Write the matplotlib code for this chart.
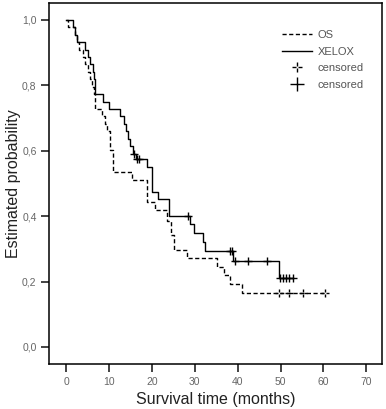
import matplotlib.pyplot as plt
from matplotlib.path import Path
from matplotlib.lines import Line2D

# ==== DATA ====
# OS curve: step times and survival after each step
os_times = [0, 0.5, 2.1, 2.6, 3.1, 4.0, 4.3, 5.2, 5.6, 6.0, 6.4, 6.8, 8.3, 9.1, 9.6,
            10.2, 10.9, 15.4, 18.8, 20.8, 23.5, 24.4, 25.2, 28.2, 35.2, 36.9, 38.1, 41.0]
os_surv = [1.0, 0.977, 0.955, 0.932, 0.909, 0.886, 0.864, 0.841, 0.818, 0.795, 0.773,
           0.727, 0.705, 0.682, 0.659, 0.602, 0.534, 0.511, 0.443, 0.420, 0.386, 0.341,
           0.295, 0.271, 0.244, 0.220, 0.193, 0.164]
os_end = 60.3
os_cens_t = [49.7, 51.9, 55.2, 60.3]
os_cens_s = [0.164, 0.164, 0.164, 0.164]

# XELOX curve
xe_times = [0, 1.6, 2.0, 2.5, 4.4, 5.1, 5.6, 6.2, 6.5, 6.8, 8.7, 10.1, 12.6, 13.4, 14.0,
            14.5, 14.9, 15.6, 16.3, 18.8, 20.0, 21.5, 24.1, 28.9, 29.7, 32.0, 32.4, 38.9, 49.7]
xe_surv = [1.0, 0.977, 0.955, 0.932, 0.909, 0.886, 0.864, 0.841, 0.818, 0.773, 0.750,
           0.727, 0.705, 0.682, 0.659, 0.636, 0.614, 0.591, 0.575, 0.551, 0.475, 0.451,
           0.401, 0.375, 0.350, 0.322, 0.294, 0.263, 0.210]
xe_end = 53.0
xe_cens_t = [15.9, 16.6, 17.0, 28.4, 38.1, 38.7, 39.3, 42.5, 46.8, 49.9, 50.6, 51.2, 51.9, 52.9]
xe_cens_s = [0.591, 0.575, 0.575, 0.401, 0.294, 0.294, 0.263, 0.263, 0.263,
             0.210, 0.210, 0.210, 0.210, 0.210]

x_ticks = [0, 10, 20, 30, 40, 50, 60, 70]
y_ticks = [0.0, 0.2, 0.4, 0.6, 0.8, 1.0]
y_tick_labels = ["0,0", "0,2", "0,4", "0,6", "0,8", "1,0"]

# broken plus marker for the dashed (OS) censors
broken_plus = Path(
    [(0, 0.3), (0, 1), (0, -0.3), (0, -1), (0.3, 0), (1, 0), (-1, 0), (-0.3, 0)],
    [Path.MOVETO, Path.LINETO] * 4)

plt.rcParams['font.family'] = ['Liberation Sans', 'DejaVu Sans']

fig = plt.figure(figsize=(3.86, 4.09), dpi=100)
ax = fig.add_axes([0.127, 0.110, 0.863, 0.883])

ax.step(os_times + [os_end], os_surv + [os_surv[-1]], where='post',
        color='black', lw=1.0, dashes=(3, 1.8))
ax.step(xe_times + [xe_end], xe_surv + [xe_surv[-1]], where='post',
        color='black', lw=1.0)
ax.plot(os_cens_t, os_cens_s, ls='none', marker=broken_plus, ms=6, mew=1, color='black')
ax.plot(xe_cens_t, xe_cens_s, ls='none', marker='+', ms=6, mew=1, color='black')

ax.set_xlim(-4, 73.7)
ax.set_ylim(-0.052, 1.052)
ax.set_xticks(x_ticks)
ax.set_yticks(y_ticks)
ax.set_yticklabels(y_tick_labels)
ax.tick_params(direction='out', length=5.5, width=1.2, labelsize=7.5,
               labelcolor='#666666', color='#222222')
for sp in ax.spines.values():
    sp.set_linewidth(1.1)

ax.set_xlabel("Survival time (months)", fontsize=11.5, color='#222222', labelpad=4)
ax.set_ylabel("Estimated probability", fontsize=11.5, color='#222222', labelpad=1)

handles = [
    Line2D([], [], color='black', lw=1.0, dashes=(3, 1.8)),
    Line2D([], [], color='black', lw=1.0),
    Line2D([], [], ls='none', marker=broken_plus, ms=7, mew=1, color='black'),
    Line2D([], [], ls='none', marker='+', ms=10, mew=1, color='black'),
]
ax.legend(handles, ["OS", "XELOX", "censored", "censored"], loc='upper left',
          bbox_to_anchor=(0.70, 0.925), frameon=False, fontsize=8,
          handlelength=2.7, handletextpad=0.5, labelspacing=0.6,
          borderpad=0, borderaxespad=0, labelcolor='#555555')

plt.savefig("out.png", dpi=100)
plt.close()
